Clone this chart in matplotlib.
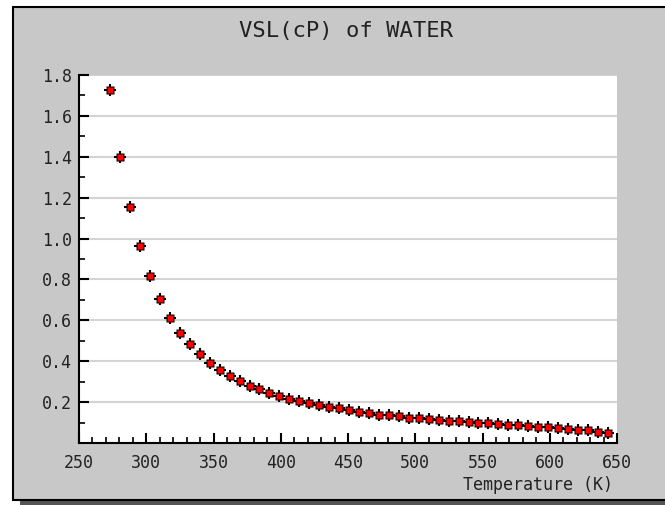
import matplotlib
matplotlib.use('Agg')
import matplotlib.pyplot as plt
from matplotlib.patches import Rectangle
from matplotlib.ticker import MultipleLocator, FormatStrFormatter

# Temperature (K) and liquid viscosity (cP)
temps = [273.2, 280.6, 288.0, 295.4, 302.8, 310.2, 317.6, 325.0, 332.4, 339.8,
         347.2, 354.6, 362.0, 369.4, 376.8, 384.2, 391.6, 399.0, 406.4, 413.8,
         421.2, 428.6, 436.0, 443.4, 450.8, 458.2, 465.6, 473.0, 480.4, 487.8,
         495.2, 502.6, 510.0, 517.4, 524.8, 532.2, 539.6, 547.0, 554.4, 561.8,
         569.2, 576.6, 584.0, 591.4, 598.8, 606.2, 613.6, 621.0, 628.4, 635.8,
         643.2]
visc = [1.727, 1.400, 1.155, 0.964, 0.818, 0.703, 0.612, 0.540, 0.482, 0.433,
        0.392, 0.358, 0.328, 0.303, 0.281, 0.262, 0.245, 0.230, 0.217, 0.205,
        0.194, 0.186, 0.178, 0.170, 0.161, 0.153, 0.145, 0.139, 0.136, 0.130,
        0.124, 0.120, 0.116, 0.113, 0.110, 0.107, 0.104, 0.100, 0.097, 0.094,
        0.090, 0.087, 0.084, 0.080, 0.077, 0.073, 0.070, 0.066, 0.062, 0.056,
        0.050]

title = 'VSL(cP) of WATER'
xlabel = 'Temperature (K)'

W, H = 665, 505
fig = plt.figure(figsize=(W / 100, H / 100), dpi=100, facecolor='white')
plt.rcParams['font.family'] = ['DejaVu Sans Mono']

# gray panel with shadow and black border (behind the axes)
fig.patches.append(Rectangle((20 / W, 0.0), 1.0, 1 - 12 / H, transform=fig.transFigure,
                             facecolor='#555555', edgecolor='none', zorder=-3))
fig.patches.append(Rectangle((13 / W, 1 - 500 / H), 1.0, (500 - 7) / H, transform=fig.transFigure,
                             facecolor='#c8c8c8', edgecolor='black', linewidth=1.5, zorder=-2))

ax = fig.add_axes([79 / W, 1 - 443 / H, (617 - 79) / W, (443 - 75) / H])
ax.set_facecolor('white')
ax.set_xlim(250, 650)
ax.set_ylim(0, 1.8)

ax.xaxis.set_major_locator(MultipleLocator(50))
ax.xaxis.set_minor_locator(MultipleLocator(10))
ax.yaxis.set_minor_locator(MultipleLocator(0.1))
ax.set_yticks([0.2, 0.4, 0.6, 0.8, 1.0, 1.2, 1.4, 1.6, 1.8])
ax.yaxis.set_major_formatter(FormatStrFormatter('%.1f'))

ax.grid(axis='y', which='major', color='#d4d4d4', linewidth=1.5, zorder=0)
ax.set_axisbelow(True)

for s in ['top', 'right']:
    ax.spines[s].set_visible(False)
for s in ['left', 'bottom']:
    ax.spines[s].set_linewidth(1.5)

ax.tick_params(which='major', direction='in', length=7, width=1.5, colors='black',
               labelsize=12, labelcolor='#222222')
ax.tick_params(which='minor', direction='in', length=4, width=1.2, colors='black')
ax.tick_params(axis='x', pad=8)
ax.tick_params(axis='y', pad=5)

# black cross + black box + red square, like the original pixel marker
ax.plot(temps, visc, linestyle='none', marker='+', markersize=8, markeredgewidth=1.5,
        markeredgecolor='black', zorder=3, clip_on=False)
ax.plot(temps, visc, linestyle='none', marker='s', markersize=5.8,
        markerfacecolor='black', markeredgecolor='none', zorder=4, clip_on=False)
ax.plot(temps, visc, linestyle='none', marker='s', markersize=4.0,
        markerfacecolor='#ff0000', markeredgecolor='none', zorder=5, clip_on=False)

fig.text(346 / W, 1 - 31 / H, title, ha='center', va='center', fontsize=16, color='#222222')
fig.text(613 / W, 1 - 485 / H, xlabel, ha='right', va='center', fontsize=12, color='#222222')

fig.savefig('out.png', dpi=100)
